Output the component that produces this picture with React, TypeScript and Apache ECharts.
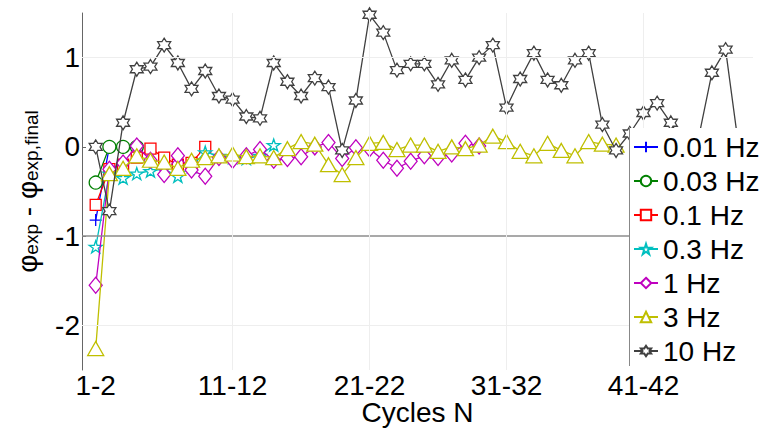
import React, { useEffect, useRef } from "react";
import * as echarts from "echarts";

// ---- data (value per cycle index, starting at index 1) ----
const seriesNames = ["0.01 Hz", "0.03 Hz", "0.1 Hz", "0.3 Hz", "1 Hz", "3 Hz", "10 Hz"];
const hz001 = [-0.82, 0.0];
const hz003 = [-0.4, 0.0, 0.0, 0.0];
const hz01 = [-0.65, -0.25, -0.2, -0.12, -0.02, -0.12, -0.2, -0.18, 0.0];
const hz03 = [-1.12, -0.3, -0.35, -0.3, -0.27, -0.25, -0.33, -0.22, -0.06, -0.1, -0.12, -0.13, -0.1, 0.02];
const hz1 = [-1.55, -0.25, -0.18, 0.01, -0.15, -0.31, -0.1, -0.26, -0.33, -0.12, -0.15, -0.1, -0.03, -0.15, -0.13, -0.11, 0.0, 0.05, -0.13, -0.01, -0.02, -0.15, -0.24, -0.16, -0.1, -0.12, -0.08, 0.04, 0.01];
const hz3 = [-2.26, -0.3, -0.24, -0.1, -0.15, -0.17, -0.24, -0.15, -0.12, -0.1, -0.08, -0.11, -0.1, -0.12, -0.02, 0.06, 0.03, -0.2, -0.31, -0.12, 0.04, 0.05, -0.03, 0.02, 0.02, -0.05, 0.0, -0.02, 0.02, 0.12, 0.06, -0.05, -0.1, 0.04, -0.04, -0.1, 0.06, 0.03, 0.02];
const hz10 = [0.0, -0.72, 0.27, 0.87, 0.9, 1.14, 0.94, 0.65, 0.85, 0.57, 0.53, 0.34, 0.32, 0.94, 0.73, 0.57, 0.77, 0.67, -0.04, 0.52, 1.48, 1.28, 0.86, 0.93, 0.93, 0.7, 0.97, 0.75, 1.0, 1.14, 0.44, 0.76, 1.05, 0.75, 0.69, 0.97, 1.05, 0.25, -0.04, 0.15, 0.38, 0.49, 0.27, 0.0, 0.08, 0.83, 1.09, -0.05];

const xTickLabels = ["1-2", "11-12", "21-22", "31-32", "41-42"];
const xTickValues = [1, 11, 21, 31, 41];
const yTickValues = [-2, -1, 0, 1];

// ---- styles ----
const colors = ["#0000ff", "#008000", "#ff0000", "#00bfbf", "#bf00bf", "#bfbf00", "#404040"];
const PLUS = "path://M10,0L10,20M0,10L20,10";
const PENTA = "path://M10,0L12.245,6.91L19.51,6.91L13.63,11.18L15.88,18.09L10,13.82L4.12,18.09L6.37,11.18L0.49,6.91L7.755,6.91Z";
const HEXA = "path://M10,0L12.887,5L18.66,5L15.77,10L18.66,15L12.887,15L10,20L7.113,15L1.34,15L4.23,10L1.34,5L7.113,5Z";
const symbols = [PLUS, "circle", "rect", PENTA, "diamond", "triangle", HEXA];
const symbolSizes: any[] = [12, 13, 11, [13, 12], [13, 16], [16, 14], [13, 14]];
const FONT = "Liberation Sans, Arial, sans-serif";

export default function App() {
  const ref = useRef<HTMLDivElement>(null);
  useEffect(() => {
    if (!ref.current) return;
    const chart = echarts.init(ref.current, null, { renderer: "svg" });
    const allData = [hz001, hz003, hz01, hz03, hz1, hz3, hz10];
    const series: any[] = allData.map((arr, k) => ({
      name: seriesNames[k],
      type: "line",
      data: arr.map((v, i) => [i + 1, v]),
      symbol: symbols[k],
      symbolSize: symbolSizes[k],
      showAllSymbol: true,
      lineStyle: { color: colors[k], width: 1.3 },
      itemStyle: {
        color: k === 0 ? colors[k] : "#ffffff",
        borderColor: colors[k],
        borderWidth: 1.3,
      },
      emphasis: { disabled: true },
      z: 2 + k * 0.01,
    }));
    series[0].markLine = {
      silent: true,
      symbol: "none",
      label: { show: false },
      animation: false,
      data: [
        { yAxis: 1, lineStyle: { color: "#eeeeee", width: 1, type: "solid" } },
        { yAxis: -2, lineStyle: { color: "#eeeeee", width: 1, type: "solid" } },
        { yAxis: -1, lineStyle: { color: "#8c8c8c", width: 1.6, type: "solid" } },
        { xAxis: 11, lineStyle: { color: "#eeeeee", width: 1, type: "solid" } },
        { xAxis: 21, lineStyle: { color: "#eeeeee", width: 1, type: "solid" } },
        { xAxis: 31, lineStyle: { color: "#eeeeee", width: 1, type: "solid" } },
        { xAxis: 41, lineStyle: { color: "#eeeeee", width: 1, type: "solid" } },
      ],
    };

    const option: any = {
      animation: false,
      backgroundColor: "#ffffff",
      textStyle: { fontFamily: FONT },
      grid: { left: 82, top: 13, right: 10, bottom: 61, containLabel: false, outerBoundsMode: "none" },
      xAxis: [
        {
          type: "value",
          min: 0,
          max: 49,
          position: "bottom",
          name: "Cycles N",
          nameLocation: "middle",
          nameGap: 30,
          nameMoveOverlap: false,
          nameTextStyle: { fontSize: 28, lineHeight: 24, color: "#000", fontFamily: FONT },
          axisLine: { show: false },
          axisTick: { show: true, inside: true, length: 5, customValues: [11, 31], lineStyle: { color: "#555" } },
          axisLabel: {
            show: true,
            customValues: xTickValues,
            fontSize: 28,
            lineHeight: 24,
            color: "#000",
            fontFamily: FONT,
            margin: 3,
            formatter: (v: number) => {
              const idx = xTickValues.indexOf(Math.round(v));
              return idx >= 0 ? xTickLabels[idx] : "";
            },
          },
          splitLine: { show: false },
        },
        {
          type: "value",
          min: 0,
          max: 49,
          position: "top",
          axisLine: { show: false },
          axisTick: { show: true, inside: true, length: 5, customValues: [11, 31], lineStyle: { color: "#555" } },
          axisLabel: { show: false },
          splitLine: { show: false },
        },
      ],
      yAxis: {
        type: "value",
        min: -2.5,
        max: 1.5,
        interval: 0.5,
        name: "{a|φ}{s|exp}{a| - φ}{s|exp,final}",
        nameLocation: "middle",
        nameGap: 41,
        nameMoveOverlap: false,
        nameRotate: 90,
        nameTextStyle: {
          color: "#000",
          fontFamily: FONT,
          rich: {
            a: { fontSize: 28, lineHeight: 28, verticalAlign: "top", fontFamily: FONT, color: "#000" },
            s: { fontSize: 19, lineHeight: 19, padding: [17, 0, 0, 0], verticalAlign: "bottom", fontFamily: FONT, color: "#000" },
          },
        },
        axisLine: { show: true, lineStyle: { color: "#666", width: 1 } },
        axisTick: { show: true, inside: true, length: 4, customValues: yTickValues, lineStyle: { color: "#666" } },
        axisLabel: {
          customValues: yTickValues,
          fontSize: 28,
          color: "#000",
          fontFamily: FONT,
          margin: 2,
          formatter: (v: number) => String(v),
        },
        splitLine: { show: false },
      },
      legend: {
        orient: "vertical",
        left: 629,
        top: 128,
        padding: [5, 4, 5, 4],
        itemWidth: 24,
        itemHeight: 13,
        itemGap: 6,
        backgroundColor: "#ffffff",
        textStyle: { fontSize: 28, lineHeight: 28, color: "#000", fontFamily: FONT },
        data: seriesNames,
        z: 10,
      },
      graphic: [
        {
          type: "line",
          z: 20,
          shape: { x1: 629.5, y1: 127, x2: 629.5, y2: 366 },
          style: { stroke: "#888", lineWidth: 1 },
        },
      ],
      series,
    };
    chart.setOption(option);
    return () => chart.dispose();
  }, []);
  return (
    <div
      ref={ref}
      style={{ position: "fixed", left: 0, top: 0, width: 763, height: 431, background: "#fff" }}
    />
  );
}
